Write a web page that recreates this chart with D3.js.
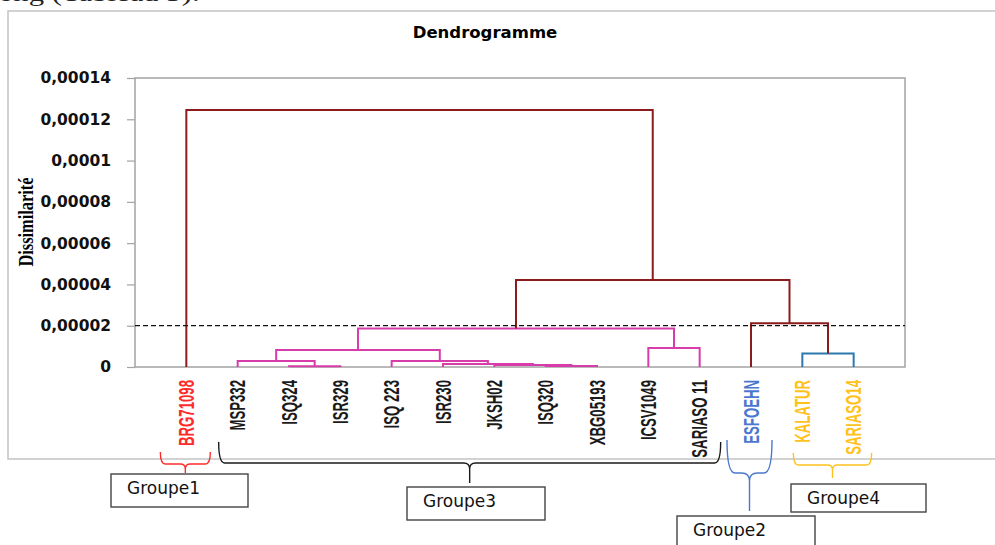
<!DOCTYPE html>
<html>
<head>
<meta charset="utf-8">
<script src="https://cdn.jsdelivr.net/npm/d3@7"></script>
<style>
	body { margin: 0; background: #fff; }
	svg { display: block; }
</style>
</head>
<body>
<svg width="995" height="545"></svg>
<script>
// leaves in dendrogram order
var leaves = ["BRG71098", "MSP332", "ISQ324", "ISR329", "ISQ 223", "ISR230", "JKSH02",
	"ISQ320", "XBG05193", "ICSV1049", "SARIASO 11", "ESFOEHN", "KALATUR", "SARIASO14"];
var leafGroup = ["Groupe1", "Groupe3", "Groupe3", "Groupe3", "Groupe3", "Groupe3", "Groupe3",
	"Groupe3", "Groupe3", "Groupe3", "Groupe3", "Groupe2", "Groupe4", "Groupe4"];

// merges: id, left, right, height (dissimilarité), branch
var mergeIds = ["m1", "m2", "m3", "m4", "m5", "m6", "m7", "m8", "m9", "m10", "m11", "m12", "m13"];
var mergeLeft = ["ISQ324", "MSP332", "ISQ320", "JKSH02", "ISR230", "ISQ 223", "m2", "ICSV1049", "m7", "KALATUR", "ESFOEHN", "m9", "BRG71098"];
var mergeRight = ["ISR329", "m1", "XBG05193", "m3", "m4", "m5", "m6", "SARIASO 11", "m8", "SARIASO14", "m10", "m11", "m12"];
var mergeHeight = [0.0000004, 0.0000029, 0.0000005, 0.000001, 0.0000014, 0.0000029, 0.0000082,
	0.0000092, 0.0000187, 0.0000066, 0.0000212, 0.0000421, 0.0001245];
var mergeBranch = ["g3", "g3", "g3", "g3", "g3", "g3", "g3", "g3", "g3", "g4", "top", "top", "top"];

var yTicks = [0, 0.00002, 0.00004, 0.00006, 0.00008, 0.0001, 0.00012, 0.00014];
var cutLevel = 0.00002;
var groupNames = ["Groupe1", "Groupe2", "Groupe3", "Groupe4"];

var svg = d3.select("svg");
var plot = {left: 135, right: 905, top: 78, bottom: 367};

var x = d3.scalePoint().domain(leaves).range([plot.left, plot.right]).padding(1);
var y = d3.scaleLinear().domain([0, 0.00014]).range([plot.bottom, plot.top]);

var branchColor = d3.scaleOrdinal().domain(["g3", "g4", "top"]).range(["#d83cab", "#2b79ae", "#8c1c1c"]);
var groupColor = d3.scaleOrdinal().domain(groupNames).range(["#ff2b2b", "#4b78cf", "#1a1a1a", "#ffc21c"]);

// page fragment above the figure
svg.append("text")
	.attr("transform", "translate(-2,1) scale(1.28,1)")
	.attr("font-family", "Liberation Serif")
	.attr("font-size", 24)
	.attr("fill", "#222")
	.text("ong (Tableau 3).");

// outer frame
svg.append("path")
	.attr("d", "M995,11H8V459H995")
	.attr("fill", "none")
	.attr("stroke", "#c4c4c4")
	.attr("stroke-width", 1.5);

svg.append("text")
	.attr("x", 485)
	.attr("y", 38)
	.attr("text-anchor", "middle")
	.attr("font-family", "DejaVu Sans")
	.attr("font-weight", "bold")
	.attr("font-size", 16.5)
	.text("Dendrogramme");

// plot border
svg.append("rect")
	.attr("x", plot.left)
	.attr("y", plot.top)
	.attr("width", plot.right - plot.left)
	.attr("height", plot.bottom - plot.top)
	.attr("fill", "none")
	.attr("stroke", "#a3a3a3")
	.attr("stroke-width", 1.5);

var fmt = function (d) {
	return d === 0 ? "0" : String(+d.toFixed(5)).replace(".", ",");
};

var yAxis = svg.append("g")
	.attr("transform", "translate(" + plot.left + ",0)")
	.call(d3.axisLeft(y).tickValues(yTicks).tickFormat(fmt).tickSize(8).tickPadding(16));
yAxis.select(".domain").remove();
yAxis.selectAll("line").attr("stroke", "#a3a3a3").attr("stroke-width", 1.2);
yAxis.selectAll("text")
	.attr("font-family", "DejaVu Sans")
	.attr("font-weight", "bold")
	.attr("font-size", 15.5)
	.attr("fill", "#111");

svg.append("text")
	.attr("transform", "translate(26,222) rotate(-90) scale(0.82,1)")
	.attr("text-anchor", "middle")
	.attr("dy", "0.35em")
	.attr("font-family", "Liberation Serif")
	.attr("font-weight", "bold")
	.attr("font-size", 20)
	.text("Dissimilarité");

// node positions
var pos = {};
leaves.forEach(function (d) { pos[d] = {x: x(d), h: 0}; });
var links = mergeIds.map(function (id, i) {
	var a = pos[mergeLeft[i]], b = pos[mergeRight[i]];
	pos[id] = {x: (a.x + b.x) / 2, h: mergeHeight[i]};
	return {a: a, b: b, h: mergeHeight[i], branch: mergeBranch[i]};
});

svg.append("g")
	.selectAll("path")
	.data(links)
	.enter().append("path")
	.attr("d", function (d) {
		return "M" + d.a.x + "," + y(d.a.h) + "V" + y(d.h) + "H" + d.b.x + "V" + y(d.b.h);
	})
	.attr("fill", "none")
	.attr("stroke", function (d) { return branchColor(d.branch); })
	.attr("stroke-width", 2);

svg.append("line")
	.attr("x1", plot.left)
	.attr("x2", plot.right)
	.attr("y1", y(cutLevel))
	.attr("y2", y(cutLevel))
	.attr("stroke", "#111")
	.attr("stroke-width", 1.3)
	.attr("stroke-dasharray", "5,3");

// leaf labels
svg.append("g")
	.selectAll("text")
	.data(leaves)
	.enter().append("text")
	.attr("transform", function (d) { return "translate(" + x(d) + ",380) rotate(-90) scale(0.6,1)"; })
	.attr("text-anchor", "end")
	.attr("dy", "0.35em")
	.attr("font-family", "Liberation Sans")
	.attr("font-weight", "bold")
	.attr("font-size", 22)
	.attr("fill", function (d, i) { return groupColor(leafGroup[i]); })
	.text(function (d) { return d; });

// braces under the labels
function brace(x1, x2, yTop, yMid, yTip, r) {
	var xm = (x1 + x2) / 2;
	return "M" + x1 + "," + yTop + "Q" + x1 + "," + yMid + " " + (x1 + r) + "," + yMid +
		"H" + (xm - r) + "Q" + xm + "," + yMid + " " + xm + "," + (yMid + r) + "V" + yTip +
		"M" + x2 + "," + yTop + "Q" + x2 + "," + yMid + " " + (x2 - r) + "," + yMid +
		"H" + (xm + r) + "Q" + xm + "," + yMid + " " + xm + "," + (yMid + r);
}

var braces = [
	{group: "Groupe1", padL: 26, padR: 24, top: 452, mid: 464, tip: 473, r: 5},
	{group: "Groupe3", padL: 19, padR: 21, top: 442, mid: 463, tip: 483, r: 6},
	{group: "Groupe2", padL: 24, padR: 21, top: 440, mid: 473, tip: 511, r: 8},
	{group: "Groupe4", padL: 9, padR: 18, top: 453, mid: 465, tip: 478, r: 5}
];

svg.append("g")
	.selectAll("path")
	.data(braces)
	.enter().append("path")
	.attr("d", function (d) {
		var members = leaves.filter(function (l, i) { return leafGroup[i] == d.group; });
		return brace(x(members[0]) - d.padL, x(members[members.length - 1]) + d.padR, d.top, d.mid, d.tip, d.r);
	})
	.attr("fill", "none")
	.attr("stroke", function (d) { return groupColor(d.group); })
	.attr("stroke-width", 1.4);

// group boxes
var boxes = [
	{name: "Groupe1", x: 111, y: 474, w: 137, h: 33},
	{name: "Groupe3", x: 407, y: 487, w: 138, h: 33},
	{name: "Groupe4", x: 791, y: 484, w: 135, h: 28},
	{name: "Groupe2", x: 677, y: 516, w: 138, h: 40}
];

var box = svg.append("g")
	.selectAll("g")
	.data(boxes)
	.enter().append("g");

box.append("rect")
	.attr("x", function (d) { return d.x; })
	.attr("y", function (d) { return d.y; })
	.attr("width", function (d) { return d.w; })
	.attr("height", function (d) { return d.h; })
	.attr("fill", "#fff")
	.attr("stroke", "#444")
	.attr("stroke-width", 1.4);

box.append("text")
	.attr("x", function (d) { return d.x + 16; })
	.attr("y", function (d) { return d.y + Math.min(d.h, 28) / 2 + 6; })
	.attr("font-family", "DejaVu Sans")
	.attr("font-size", 17)
	.attr("fill", "#111")
	.text(function (d) { return d.name; });
</script>
</body>
</html>
